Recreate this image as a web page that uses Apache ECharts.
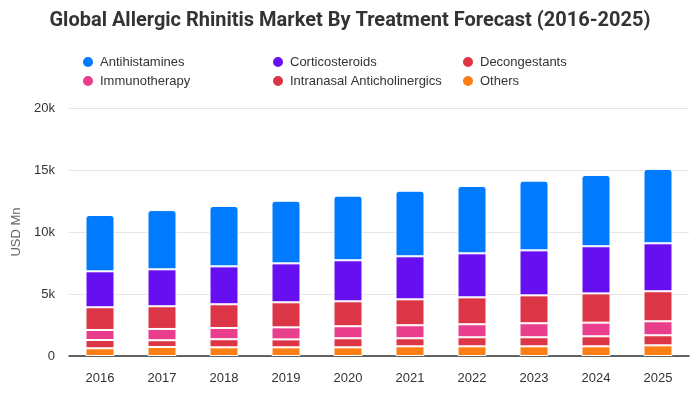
<!DOCTYPE html>
<html>
<head>
<meta charset="utf-8">
<script src="https://cdn.jsdelivr.net/npm/echarts@6/dist/echarts.min.js"></script>
<style>html,body{margin:0;padding:0;background:#fff}#c{width:700px;height:400px}</style>
</head>
<body>
<div id="c"></div>
<script>
const years = ['2016','2017','2018','2019','2020','2021','2022','2023','2024','2025'];
const antihistamines = [4540,4780,4870,5050,5210,5290,5430,5620,5750,6000];
const corticosteroids = [2900,2980,3060,3140,3310,3470,3550,3630,3800,3870];
const decongestants = [1830,1830,1910,2020,2010,2090,2170,2250,2360,2420];
const immunotherapy = [810,910,910,970,970,1050,1050,1130,1100,1130];
const intranasal = [670,540,650,640,730,650,730,730,810,810];
const others = [620,730,700,700,700,780,780,780,780,860];
const yTicks = [0,5000,10000,15000,20000];

const colors = {
  'Antihistamines':'#007bff',
  'Corticosteroids':'#6610f2',
  'Decongestants':'#dc3545',
  'Immunotherapy':'#e83e8c',
  'Intranasal Anticholinergics':'#dc3545',
  'Others':'#fd7e14'
};

const stackOrder = [
  ['Others', others],
  ['Intranasal Anticholinergics', intranasal],
  ['Immunotherapy', immunotherapy],
  ['Decongestants', decongestants],
  ['Corticosteroids', corticosteroids],
  ['Antihistamines', antihistamines]
];

const chart = echarts.init(document.getElementById('c'), null, {renderer:'canvas'});
const legendBase = {
  orient:'vertical', top:50, itemWidth:14, itemHeight:12, itemGap:5, icon:'circle',
  textStyle:{fontFamily:'Liberation Sans, Arial, sans-serif', fontSize:13, color:'#333', lineHeight:12},
  selectedMode:false
};
chart.setOption({
  animation:false,
  backgroundColor:'#fff',
  title:{
    text:'Global Allergic Rhinitis Market By Treatment Forecast (2016-2025)',
    left:'center', top:6,
    textStyle:{fontFamily:'Roboto, sans-serif', fontWeight:'bold', fontSize:20, color:'#333'}
  },
  legend:[
    Object.assign({}, legendBase, {left:76, data:['Antihistamines','Immunotherapy']}),
    Object.assign({}, legendBase, {left:266, data:['Corticosteroids','Intranasal Anticholinergics']}),
    Object.assign({}, legendBase, {left:456, data:['Decongestants','Others']})
  ],
  grid:{left:69, right:11, top:108, bottom:44},
  xAxis:{
    type:'category', data:years,
    axisLine:{lineStyle:{color:'#333', width:1.5}},
    axisTick:{show:false},
    axisLabel:{fontFamily:'Liberation Sans, Arial, sans-serif', fontSize:13, color:'#333', margin:16}
  },
  yAxis:{
    type:'value', min:yTicks[0], max:yTicks[yTicks.length-1], interval:yTicks[1]-yTicks[0],
    name:'USD Mn', nameLocation:'middle', nameGap:42,
    nameTextStyle:{fontFamily:'Liberation Sans, Arial, sans-serif', fontSize:13, color:'#666'},
    axisLine:{show:false}, axisTick:{show:false},
    splitLine:{lineStyle:{color:'#e6e6e6'}},
    axisLabel:{fontFamily:'Liberation Sans, Arial, sans-serif', fontSize:13, color:'#333', margin:14,
      formatter:v => v === 0 ? '0' : (v/1000)+'k'}
  },
  series: stackOrder.map(([name, data], i) => ({
    name, type:'bar', stack:'total', data, barWidth:29,
    itemStyle:{color:colors[name], borderColor:'#fff', borderWidth:1,
      borderRadius: i === stackOrder.length-1 ? [3,3,0,0] : 0}
  }))
});
</script>
</body>
</html>
